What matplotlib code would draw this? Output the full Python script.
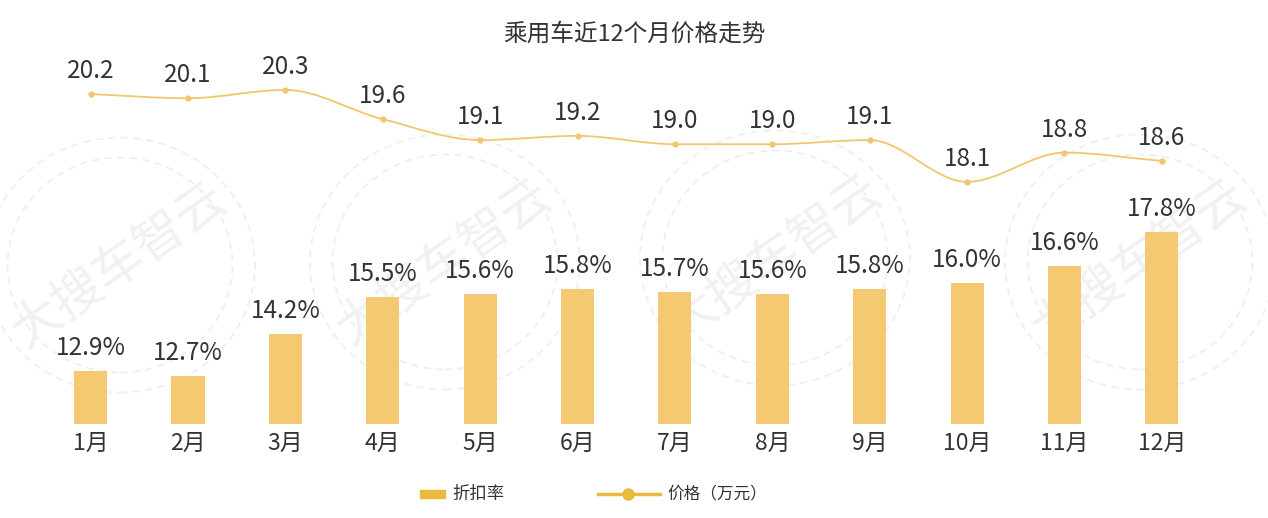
import matplotlib.pyplot as plt
from matplotlib.path import Path
from matplotlib.patches import PathPatch, Rectangle, Ellipse
from matplotlib.lines import Line2D
import matplotlib.transforms as mtransforms

plt.rcParams['font.family'] = ['Noto Sans CJK SC', 'DejaVu Sans']

months = ['1月', '2月', '3月', '4月', '5月', '6月', '7月', '8月', '9月', '10月', '11月', '12月']
discount = [12.9, 12.7, 14.2, 15.5, 15.6, 15.8, 15.7, 15.6, 15.8, 16.0, 16.6, 17.8]
price = [20.2, 20.1, 20.3, 19.6, 19.1, 19.2, 19.0, 19.0, 19.1, 18.1, 18.8, 18.6]

bar_color = '#F5C872'
line_color = '#F2C66E'
text_color = '#333333'

fig = plt.figure(figsize=(12.68, 5.18), dpi=100)
ax = fig.add_axes([0, 0, 1, 1])
ax2 = ax.twinx()
ax.set_xlim(-0.93, 12.09)
ax.set_ylim(7.67, 26.04)
ax2.set_ylim(10.06, 22.45)
ax.axis('off')
ax2.axis('off')

# watermark (behind the bars)
for cx, cy in [(120, 265), (445, 262), (775, 258), (1140, 262)]:
    fx, fy = cx / 1268, 1 - cy / 518
    ax.text(fx, fy, '大搜车智云', rotation=35, ha='center', va='center',
            fontsize=36, color='#f1f1f1',
            transform=fig.transFigure, zorder=1)
    for w, h in [(270, 255), (225, 215)]:
        ax.add_patch(Ellipse((fx, fy), w / 1268, h / 518, fill=False,
                             ec='#efefef', lw=1.3, ls=(0, (4, 3)),
                             transform=fig.transFigure, zorder=1))

x = list(range(len(months)))

# bars
ax.bar(x, [d - 11 for d in discount], bottom=11, width=0.34,
       color=bar_color, zorder=3)
for i, d in enumerate(discount):
    ax.annotate(f'{d:.1f}%', (i, d), xytext=(0, 23), textcoords='offset pixels',
                ha='center', va='center', fontsize=17.5,
                color=text_color, zorder=4)

# smooth line (monotone cubic bezier through the data points)
n = len(price)
slopes = [price[i + 1] - price[i] for i in range(n - 1)]
tang = [slopes[0]]
for i in range(1, n - 1):
    if slopes[i - 1] * slopes[i] <= 0:
        tang.append(0.0)
    else:
        tang.append(2 / (1 / slopes[i - 1] + 1 / slopes[i]))
tang.append(slopes[-1])
verts = [(x[0], price[0])]
codes = [Path.MOVETO]
for i in range(n - 1):
    verts += [(x[i] + 1 / 3, price[i] + tang[i] / 3),
              (x[i + 1] - 1 / 3, price[i + 1] - tang[i + 1] / 3),
              (x[i + 1], price[i + 1])]
    codes += [Path.CURVE4] * 3
ax2.add_patch(PathPatch(Path(verts, codes), fill=False, ec=line_color, lw=1.3, zorder=3))
ax2.plot(x, price, 'o', color=line_color, ms=3.5, zorder=4)
for i, p in enumerate(price):
    ax2.annotate(f'{p:.1f}', (i, p), xytext=(0, 23), textcoords='offset pixels',
                 ha='center', va='center', fontsize=17.5, color=text_color)

# month labels
trans = mtransforms.blended_transform_factory(ax.transData, fig.transFigure)
for i, m in enumerate(months):
    ax.text(i, 1 - 443 / 518, m, transform=trans, ha='center', va='center',
            fontsize=16.5, color=text_color)

fig.text(0.5, 1 - 34 / 518, '乘用车近12个月价格走势', ha='center', va='center',
         fontsize=17, color=text_color)

# legend
ly = 1 - 494 / 518
fig.add_artist(Rectangle((420 / 1268, ly - 4 / 518), 25 / 1268, 8 / 518,
                         color='#E9BA3D', transform=fig.transFigure))
fig.text(452 / 1268, ly, '折扣率', ha='left', va='center', fontsize=12.5, color=text_color)
fig.add_artist(Line2D([598 / 1268, 660 / 1268], [ly, ly], color='#E9BA3D', lw=2.5,
                      transform=fig.transFigure))
fig.add_artist(Line2D([628 / 1268], [ly], marker='o', ms=8, color='#E9BA3D',
                      transform=fig.transFigure))
fig.text(667 / 1268, ly, '价格（万元）', ha='left', va='center', fontsize=12, color=text_color)

fig.savefig('out.png', dpi=100, facecolor='white')
